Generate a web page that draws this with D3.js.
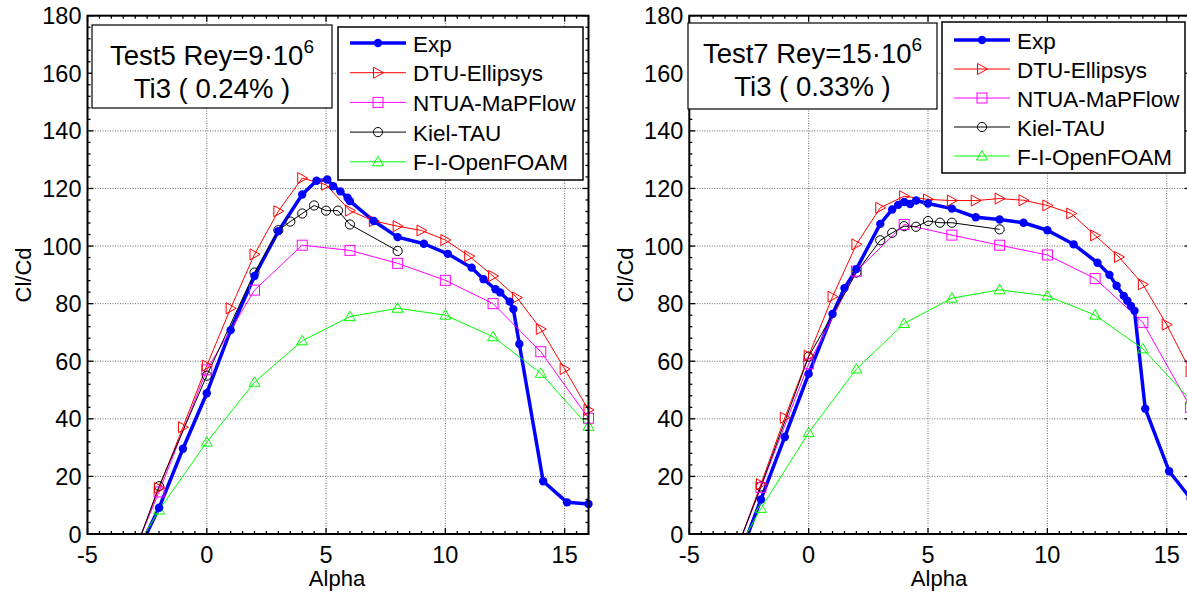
<!DOCTYPE html>
<html><head><meta charset="utf-8">
<script src="https://cdn.jsdelivr.net/npm/d3@7"></script>
<style>body{margin:0;background:#fff}svg{display:block}text{font-family:"Liberation Sans",Arial,sans-serif;fill:#000}</style>
</head><body><svg id="c" width="1187" height="597"></svg>
<script>
// ---- data ----
const xTicks = [-5, 0, 5, 10, 15];
const yTicks = [0, 20, 40, 60, 80, 100, 120, 140, 160, 180];
const seriesNames = ["Exp", "DTU-Ellipsys", "NTUA-MaPFlow", "Kiel-TAU", "F-I-OpenFOAM"];

// Test5
const exp5Alpha = [-3,-2,-1,0,1,2,3,4,4.6,5.05,5.3,5.6,5.9,6.0,7,8,9.1,10.1,11.1,11.6,12.1,12.3,12.7,12.85,13.1,14.1,15.1,16];
const exp5Val   = [-8.1,9.1,29.6,48.9,70.8,89.6,105.2,117.9,122.7,123.1,120.8,119,116.8,115.6,108.7,103.1,100.8,97.3,92.5,88.5,85,83.9,80.7,78.1,66,18.3,11,10.4];
const dtu5Alpha = [-3,-2,-1,0,1,2,3,4,5,6,7,8,9,10,11,12,13,14,15,16];
const dtu5Val   = [-6,16,37.1,58.5,78.4,97.1,112.1,123.6,121.3,112.3,108.7,106.9,105.4,102.1,96.5,89.6,82.1,71.2,57.3,43.1];
const ntua5Alpha = [-3,-2,0,2,4,6,8,10,12,14,16];
const ntua5Val   = [-5.1,14.6,57,84.7,100.3,98.5,94,88.1,80,63.3,40.2];
const kiel5Alpha = [-3,-2,0,2,3,3.5,4,4.5,5,5.5,6,8];
const kiel5Val   = [-5.8,16.6,55,90.8,105.5,108.5,111.3,114.1,112.3,112.3,107.5,98.3];
const fi5Alpha = [-3,-2,0,2,4,6,8,10,12,14,16];
const fi5Val   = [-5.5,8.3,31.9,52.7,67.1,75.5,78.4,76,68.5,55.8,37.4];

// Test7
const exp7Alpha = [-3,-2,-1,0,1,1.5,2,3,3.5,3.75,4,4.25,4.5,5,6,7,8,9,10,11.1,12.1,12.6,12.9,13.2,13.35,13.5,13.65,14.1,15.1,16];
const exp7Val   = [-10.2,12,33.7,55.6,76.4,85.4,92,107.7,112.7,114.3,115.3,114.6,115.8,114.8,113,110,109.2,108.1,105.5,100.6,94.2,90,86.2,82.7,81,79.2,77.5,43.5,21.8,12.3];
const dtu7Alpha = [-3,-2,-1,0,1,2,3,4,5,6,7,8,9,10,11,12,13,14,15,16];
const dtu7Val   = [-5.2,17.3,40.4,61.9,82.4,100.6,113.3,117.3,116.2,115.8,115.8,116.5,115.9,114.1,111.3,103.7,96.2,86.7,72.7,56.5];
const ntua7Alpha = [-3,-2,0,2,4,6,8,10,12,14,16];
const ntua7Val   = [-5,16.2,59.1,91.3,107.5,103.8,100.3,96.9,88.7,73.5,44];
const kiel7Alpha = [-3,-2,0,2,3,3.5,4,4.5,5,5.5,6,8];
const kiel7Val   = [-5,16.5,61.6,90.8,102,104.6,106.9,106.7,108.7,108.1,108.1,105.8];
const fi7Alpha = [-3,-2,0,2,4,6,8,10,12,14,16];
const fi7Val   = [-5.9,8.9,35.2,57.3,73.1,81.9,84.8,82.7,76,64.3,46.5];

const colors = ["#0000ff", "#ff0000", "#ff00ff", "#000000", "#00ff00"];
const markers = ["dot", "triR", "square", "circle", "triUp"];

function zip(a, v) { return a.map((x, i) => [x, v[i]]); }

const panels = [
  { id: "p5", x0: 87.5, x1: 588.5, title: "Test5 Rey=9·10", ti: "Ti3 ( 0.24% )",
    tb: [92, 25, 240, 83], lg: [338, 27, 245, 153], lgRow0: 43, lgStep: 29.7,
    ylabX: 24, xlabX: 337,
    series: [zip(exp5Alpha, exp5Val), zip(dtu5Alpha, dtu5Val), zip(ntua5Alpha, ntua5Val), zip(kiel5Alpha, kiel5Val), zip(fi5Alpha, fi5Val)] },
  { id: "p7", x0: 689.3, x1: 1190.6, title: "Test7 Rey=15·10", ti: "Ti3 ( 0.33% )",
    tb: [688, 23, 249, 86], lg: [942, 22, 243, 151], lgRow0: 40, lgStep: 29,
    ylabX: 626, xlabX: 939,
    series: [zip(exp7Alpha, exp7Val), zip(dtu7Alpha, dtu7Val), zip(ntua7Alpha, ntua7Val), zip(kiel7Alpha, kiel7Val), zip(fi7Alpha, fi7Val)] }
];

const svg = d3.select("#c");
svg.append("rect").attr("width", 1187).attr("height", 597).attr("fill", "#fff");
const defs = svg.append("defs");

function drawMarker(g, type, cx, cy, color) {
  if (type === "dot") {
    g.append("circle").attr("cx", cx).attr("cy", cy).attr("r", 4.2).attr("fill", color);
  } else if (type === "triR") {
    g.append("path").attr("d", `M${cx-4.5},${cy-5.5}L${cx+5.5},${cy}L${cx-4.5},${cy+5.5}Z`)
      .attr("fill", "none").attr("stroke", color).attr("stroke-width", 1);
  } else if (type === "square") {
    g.append("rect").attr("x", cx-5).attr("y", cy-5).attr("width", 10).attr("height", 10)
      .attr("fill", "none").attr("stroke", color).attr("stroke-width", 1);
  } else if (type === "circle") {
    g.append("circle").attr("cx", cx).attr("cy", cy).attr("r", 4.6)
      .attr("fill", "none").attr("stroke", color).attr("stroke-width", 1);
  } else if (type === "triUp") {
    g.append("path").attr("d", `M${cx},${cy-5.5}L${cx+5.5},${cy+4}L${cx-5.5},${cy+4}Z`)
      .attr("fill", "none").attr("stroke", color).attr("stroke-width", 1);
  }
}

panels.forEach(p => {
  const x = d3.scaleLinear().domain([-5, 16]).range([p.x0, p.x1]);
  const y = d3.scaleLinear().domain([0, 180]).range([534, 15.7]);
  const g = svg.append("g");

  defs.append("clipPath").attr("id", "clip-" + p.id).append("rect")
    .attr("x", x(-5)).attr("y", y(180)).attr("width", x(16) - x(-5) + 20).attr("height", y(0) - y(180));

  // grid
  const grid = g.append("g").attr("stroke", "#444").attr("stroke-width", 1).attr("stroke-dasharray", "1,1.5").attr("opacity", 0.8);
  xTicks.filter(t => t > -5).forEach(t => grid.append("line").attr("x1", x(t)).attr("x2", x(t)).attr("y1", y(0)).attr("y2", y(180)));
  yTicks.filter(t => t > 0 && t < 180).forEach(t => grid.append("line").attr("x1", x(-5)).attr("x2", x(16)).attr("y1", y(t)).attr("y2", y(t)));

  // series
  const plot = g.append("g").attr("clip-path", `url(#clip-${p.id})`);
  const line = d3.line().x(d => x(d[0])).y(d => y(d[1]));
  p.series.forEach((s, i) => {
    plot.append("path").attr("d", line(s)).attr("fill", "none").attr("stroke", colors[i])
      .attr("stroke-width", i === 0 ? 3.5 : 1).attr("stroke-linejoin", "round");
  });
  [4, 3, 2, 1, 0].forEach(i => {
    const mg = plot.append("g");
    p.series[i].filter(d => d[1] >= 0).forEach(d => drawMarker(mg, markers[i], x(d[0]), y(d[1]), colors[i]));
  });

  // frame and ticks
  const fr = g.append("g").attr("stroke", "#000");
  fr.append("rect").attr("x", x(-5)).attr("y", y(180)).attr("width", x(16) - x(-5)).attr("height", y(0) - y(180))
    .attr("fill", "none").attr("stroke-width", 2);
  for (let v = -5; v <= 16.001; v += 0.5) {
    const major = xTicks.includes(v);
    const L = major ? 6 : 3;
    fr.append("line").attr("x1", x(v)).attr("x2", x(v)).attr("y1", y(0)).attr("y2", y(0) - L).attr("stroke-width", 1.3);
    fr.append("line").attr("x1", x(v)).attr("x2", x(v)).attr("y1", y(180)).attr("y2", y(180) + L).attr("stroke-width", 1.3);
  }
  for (let v = 0; v <= 180; v += 4) {
    const major = v % 20 === 0;
    const L = major ? 6 : 3;
    fr.append("line").attr("x1", x(-5)).attr("x2", x(-5) + L).attr("y1", y(v)).attr("y2", y(v)).attr("stroke-width", 1.3);
    fr.append("line").attr("x1", x(16)).attr("x2", x(16) - L).attr("y1", y(v)).attr("y2", y(v)).attr("stroke-width", 1.3);
  }

  // tick labels
  xTicks.forEach(t => g.append("text").attr("x", x(t)).attr("y", 563).attr("text-anchor", "middle")
    .attr("font-size", 23.5).text(t));
  yTicks.forEach(t => g.append("text").attr("x", x(-5) - 6).attr("y", y(t) + 8.5).attr("text-anchor", "end")
    .attr("font-size", 23.5).text(t));

  // axis labels
  g.append("text").attr("x", p.xlabX).attr("y", 586).attr("text-anchor", "middle").attr("font-size", 22).text("Alpha");
  g.append("text").attr("transform", `translate(${p.ylabX},275) rotate(-90)`).attr("y", 7).attr("text-anchor", "middle")
    .attr("font-size", 22).text("Cl/Cd");

  // title box
  const [bx, by, bw, bh] = p.tb;
  g.append("rect").attr("x", bx).attr("y", by).attr("width", bw).attr("height", bh)
    .attr("fill", "#fff").attr("stroke", "#000").attr("stroke-width", 1.2);
  const t1 = g.append("text").attr("x", bx + bw / 2).attr("y", by + 40).attr("text-anchor", "middle").attr("font-size", 27.5);
  t1.append("tspan").text(p.title);
  t1.append("tspan").attr("font-size", 19).attr("dy", -12).text("6");
  g.append("text").attr("x", bx + bw / 2).attr("y", by + 73).attr("text-anchor", "middle").attr("font-size", 27.5).text(p.ti);

  // legend
  const [lx, ly, lw, lh] = p.lg;
  g.append("rect").attr("x", lx).attr("y", ly).attr("width", lw).attr("height", lh)
    .attr("fill", "#fff").attr("stroke", "#000").attr("stroke-width", 1.5);
  seriesNames.forEach((n, i) => {
    const ry = p.lgRow0 + i * p.lgStep;
    const lg = g.append("g");
    lg.append("line").attr("x1", lx + 12).attr("x2", lx + 68).attr("y1", ry).attr("y2", ry)
      .attr("stroke", colors[i]).attr("stroke-width", i === 0 ? 3.5 : 1);
    drawMarker(lg, markers[i], lx + 40, ry, colors[i]);
    lg.append("text").attr("x", lx + 75).attr("y", ry + 8.5).attr("font-size", 22.5).text(n);
  });
});
</script></body></html>
